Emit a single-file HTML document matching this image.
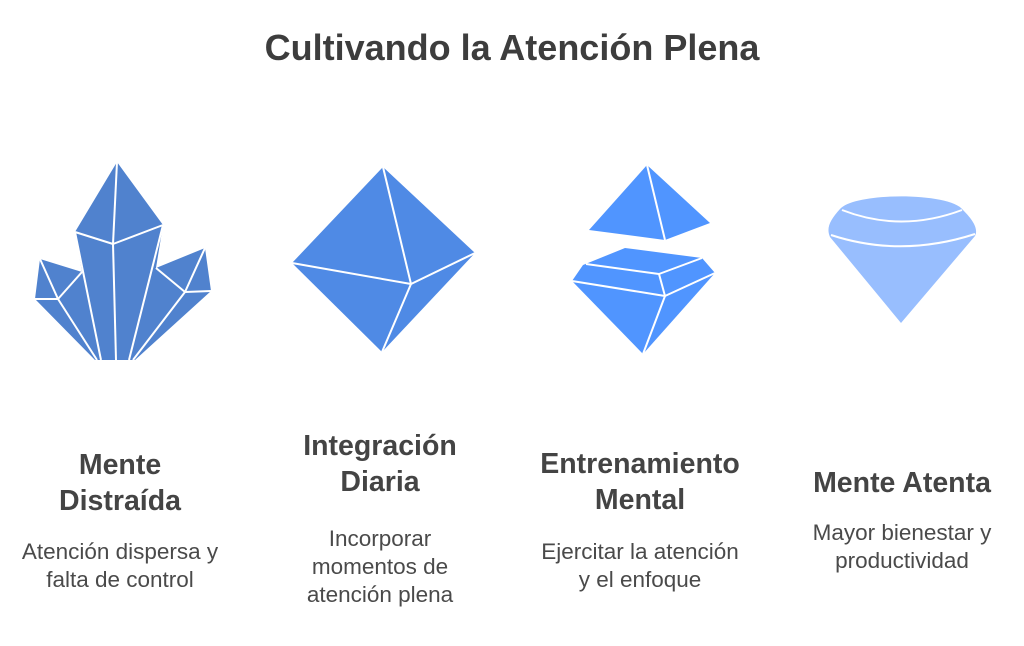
<!DOCTYPE html>
<html><head><meta charset="utf-8"><style>
body{margin:0;width:1024px;height:646px;background:#fff;position:relative;overflow:hidden;font-family:"Liberation Sans",sans-serif;color:#444}
.t{position:absolute;left:0;width:1024px;text-align:center;top:27px;font-size:36px;font-weight:bold;line-height:42px;color:#3d3d3d}
.h{position:absolute;width:300px;text-align:center;font-size:28.5px;font-weight:bold;line-height:36px;color:#444}
.b{position:absolute;width:300px;text-align:center;font-size:22.5px;line-height:28px;color:#4a4a4a}
svg{position:absolute;left:0;top:0}
</style></head><body>
<div class="t">Cultivando la Atención Plena</div>
<svg width="1024" height="646">
<g stroke="#fff" stroke-width="2" stroke-linejoin="round">
<polygon fill="#5082CE" stroke="none" points="117,162 163,225 156,268 205,248 211,291 135,360 95,360 35,299 40,259 82,272 75,232"/>
<polyline fill="none" points="75,232 113,244 163,225"/>
<line x1="113" y1="244" x2="117" y2="162"/>
<line x1="113" y1="244" x2="116" y2="360"/>
<line x1="75" y1="232" x2="101" y2="360"/>
<line x1="163" y1="225" x2="129" y2="360"/>
<polyline fill="none" points="40,259 58,299 35,299"/>
<line x1="58" y1="299" x2="82" y2="272"/>
<line x1="58" y1="299" x2="97" y2="360"/>
<polyline fill="none" points="156,268 185,292 205,248"/>
<line x1="185" y1="292" x2="211" y2="291"/>
<line x1="185" y1="292" x2="133" y2="360"/>

<polygon fill="#4F8AE5" stroke="none" points="383,167 475,253 382,352 292,263"/>
<line x1="383" y1="167" x2="411" y2="284"/>
<line x1="292" y1="263" x2="411" y2="284"/>
<line x1="475" y1="253" x2="411" y2="284"/>
<line x1="411" y1="284" x2="382" y2="352"/>

<polygon fill="#5095FF" stroke="none" points="647,165 710,223 665,240 589,230"/>
<line x1="647" y1="165" x2="665" y2="240"/>
<polygon fill="#5095FF" stroke="none" points="625,248 702,258 715,273 643,354 572,281 583,265"/>
<polyline fill="none" points="586,264 659,274 702,258"/>
<polyline fill="none" points="572,281 665,296 715,273"/>
<polyline fill="none" points="659,274 665,296 643,354"/>

<path fill="#98BEFE" stroke="none" d="M840,209 C855,192 950,192 963,210 C975,222 978,230 975,236 L901,323 L830,237 C826,228 830,220 840,209 Z"/>
<path fill="none" d="M842,210 Q901,233 962,210"/>
<path fill="none" d="M831,235 Q901,258 975,234"/>
</g>
</svg>
<div class="h" style="left:-30px;top:447px">Mente<br>Distraída</div>
<div class="b" style="left:-30px;top:538px">Atención dispersa y<br>falta de control</div>
<div class="h" style="left:230px;top:428px">Integración<br>Diaria</div>
<div class="b" style="left:230px;top:525px">Incorporar<br>momentos de<br>atención plena</div>
<div class="h" style="left:490px;top:446px">Entrenamiento<br>Mental</div>
<div class="b" style="left:490px;top:538px">Ejercitar la atención<br>y el enfoque</div>
<div class="h" style="left:752px;top:465px">Mente Atenta</div>
<div class="b" style="left:752px;top:519px">Mayor bienestar y<br>productividad</div>
</body></html>
